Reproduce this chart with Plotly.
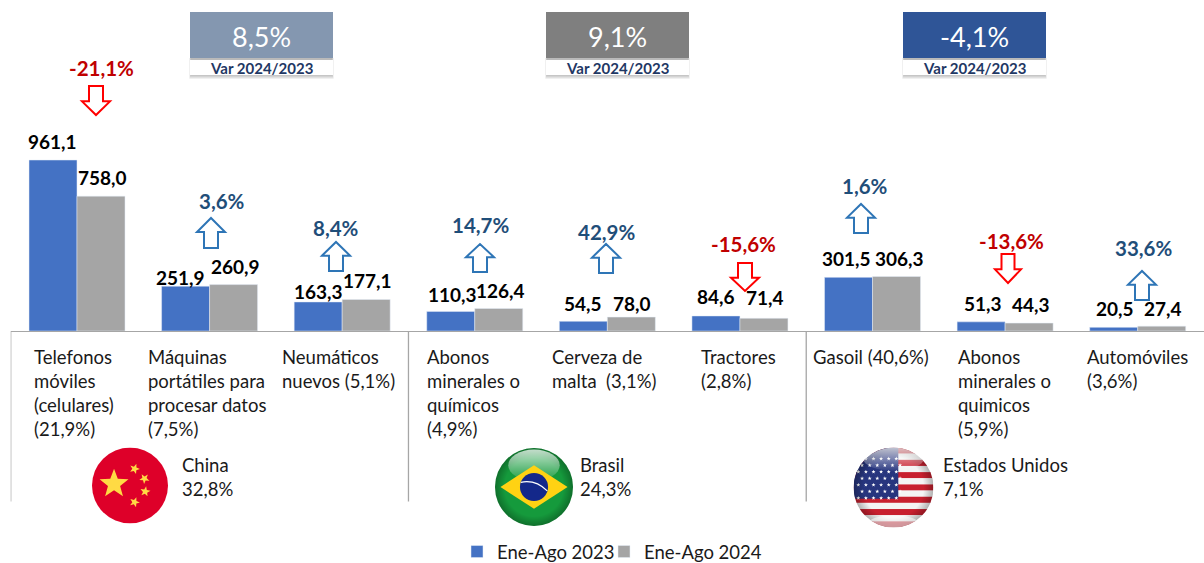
import base64, math
import plotly.graph_objects as go

W, H = 1204, 563
FONT = "Lato"

# ---------- data ----------
categories = ["Telefonos móviles", "Máquinas portátiles", "Neumáticos nuevos",
              "Abonos minerales (Brasil)", "Cerveza de malta", "Tractores",
              "Gasoil", "Abonos minerales (EE.UU.)", "Automóviles"]
wrapped_labels = ["Telefonos<br>móviles<br>(celulares)<br>(21,9%)",
                  "Máquinas<br>portátiles para<br>procesar datos<br>(7,5%)",
                  "Neumáticos<br>nuevos (5,1%)",
                  "Abonos<br>minerales o<br>químicos<br>(4,9%)",
                  "Cerveza de<br>malta  (3,1%)",
                  "Tractores<br>(2,8%)",
                  "Gasoil (40,6%)",
                  "Abonos<br>minerales o<br>quimicos<br>(5,9%)",
                  "Automóviles<br>(3,6%)"]
values_2023 = [961.1, 251.9, 163.3, 110.3, 54.5, 84.6, 301.5, 51.3, 20.5]
values_2024 = [758.0, 260.9, 177.1, 126.4, 78.0, 71.4, 306.3, 44.3, 27.4]
changes = ["-21,1%", "3,6%", "8,4%", "14,7%", "42,9%", "-15,6%", "1,6%", "-13,6%", "33,6%"]
countries = ["China", "Brasil", "Estados Unidos"]
country_shares = ["32,8%", "24,3%", "7,1%"]
group_growth = ["8,5%", "9,1%", "-4,1%"]

# ---------- layout tuning (pixels) ----------
label_left = [32, 146, 280, 425, 550, 699, 811, 956, 1085]
dx_2023 = [0, -5, 0, 1.5, 0, 0, -1.5, 2, 1]
dy_2023 = [19, 9, 10, 17, 18, 19, 19, 18, 19]
dx_2024 = [1, 1.5, 1, 1.5, 1, 1, 2.5, 2, 1]
dy_2024 = [19, 18.5, 18.5, 18.5, 14, 21, 18.5, 19, 18]
pct_xy = [(101, 68), (222, 201), (336, 228), (480, 225), (606, 232),
          (743, 244), (865, 186), (1011, 241), (1143, 248)]
arrow_box = [(82, 110, 86, 115), (197, 225, 218, 248), (322, 350, 242, 271),
             (466, 494, 244, 272), (592, 620, 244, 273), (731, 759, 263, 291),
             (847, 875, 204, 233), (995, 1021, 254, 283), (1128, 1156, 271, 300)]
box_x = [(190, 333), (546, 689), (903, 1046)]
box_col = ["#8497B0", "#7F7F7F", "#2F5597"]
country_x = [180, 578, 941]
flag_geo = [(130, 485.5, 38), (534, 487, 39), (893.5, 487.5, 40)]
sep_idx = [-0.5, 2.5, 5.5]


def px(x):
    return x / W


def py(y):
    return 1 - y / H


def star(cx, cy, r, rot=0):
    pts = []
    for k in range(10):
        a = math.radians(-90 + rot + k * 36)
        rr = r if k % 2 == 0 else r * 0.42
        pts.append(f"{cx + rr * math.cos(a):.2f},{cy + rr * math.sin(a):.2f}")
    return " ".join(pts)


GLOSS = ('<defs><linearGradient id="g" x1="0" y1="0" x2="0" y2="1">'
         '<stop offset="0" stop-color="#fff" stop-opacity=".75"/>'
         '<stop offset="1" stop-color="#fff" stop-opacity=".05"/></linearGradient>'
         '<radialGradient id="v" cx=".5" cy=".5" r=".5"><stop offset=".75" stop-color="#000" stop-opacity="0"/>'
         '<stop offset="1" stop-color="#000" stop-opacity=".28"/></radialGradient>'
         '<clipPath id="c"><circle cx="50" cy="50" r="50"/></clipPath></defs>')

china = ('<circle cx="50" cy="50" r="50" fill="#DE0029"/>'
         + f'<polygon points="{star(29, 48, 20)}" fill="#FFDA44"/>'
         + f'<polygon points="{star(56, 28, 7, 20)}" fill="#FFDA44"/>'
         + f'<polygon points="{star(69, 41, 7, 40)}" fill="#FFDA44"/>'
         + f'<polygon points="{star(70, 58, 7, 10)}" fill="#FFDA44"/>'
         + f'<polygon points="{star(56, 72, 7, 20)}" fill="#FFDA44"/>')

brazil = (GLOSS + '<circle cx="50" cy="50" r="50" fill="#159A3C"/>'
          '<circle cx="50" cy="50" r="50" fill="url(#v)"/>'
          '<ellipse cx="50" cy="22" rx="33" ry="20" fill="url(#g)"/>'
          '<polygon points="7,50 50,22 93,50 50,78" fill="#FFD213"/>'
          '<circle cx="50" cy="50" r="18" fill="#14288A"/>'
          '<path d="M33,44 Q52,40 67,55" stroke="#fff" stroke-width="1.6" fill="none"/>')

stripes = "".join(f'<rect x="0" y="{i * 100 / 13:.2f}" width="100" height="{100 / 13:.2f}" '
                  f'fill="{"#C8202F" if i % 2 == 0 else "#F4F4F4"}"/>' for i in range(13))
us_stars = "".join(f'<polygon points="{star(6 + 9.5 * c + (r % 2) * 4.7, 14 + 8.2 * r, 2.6)}" fill="#fff"/>'
                   for r in range(7) for c in range(6))
usa = (GLOSS + f'<g clip-path="url(#c)">{stripes}<rect x="0" y="0" width="56" height="64" fill="#27357E"/>'
       f'{us_stars}<rect width="100" height="100" fill="url(#v)"/>'
       '<ellipse cx="50" cy="14" rx="38" ry="15" fill="url(#g)"/>'
       '<ellipse cx="50" cy="95" rx="32" ry="10" fill="#fff" opacity=".55"/></g>')


def svg_uri(body):
    svg = f'<svg xmlns="http://www.w3.org/2000/svg" width="200" height="200" viewBox="0 0 100 100">{body}</svg>'
    return "data:image/svg+xml;base64," + base64.b64encode(svg.encode()).decode()


fig = go.Figure()
fig.add_bar(name="Ene-Ago 2023", x=categories, y=values_2023, marker_color="#4472C4", hoverinfo="x+y", legend="legend")
fig.add_bar(name="Ene-Ago 2024", x=categories, y=values_2024, marker_color="#A5A5A5", hoverinfo="x+y", legend="legend2")

annotations = []
shapes = []


def fmt(v):
    return f"{v:.1f}".replace(".", ",")


for i in range(len(categories)):
    annotations.append(dict(xref="paper", yref="paper", x=px(label_left[i]), y=py(344), xanchor="left", yanchor="top",
                            align="left", text=wrapped_labels[i], showarrow=False,
                            font=dict(family=FONT, size=18.5, color="#1a1a1a")))
    for off, vals, dxs, dys in ((-24.1, values_2023, dx_2023, dy_2023), (24.1, values_2024, dx_2024, dy_2024)):
        annotations.append(dict(xref="x", yref="y", x=i, y=vals[i], xanchor="center", yanchor="middle",
                                xshift=off + dxs[i], yshift=dys[i], text=f"<b>{fmt(vals[i])}</b>", showarrow=False,
                                font=dict(family=FONT, size=19, color="#000000")))
    neg = changes[i].startswith("-")
    annotations.append(dict(xref="paper", yref="paper", x=px(pct_xy[i][0]), y=py(pct_xy[i][1]),
                            xanchor="center", yanchor="middle", text=f"<b>{changes[i]}</b>", showarrow=False,
                            font=dict(family=FONT, size=20.5, color="#C00000" if neg else "#1F4E79")))
    x0, x1, y0, y1 = arrow_box[i]
    mx, sw = (x0 + x1) / 2, (x1 - x0) / 4
    hh = (y1 - y0) * 0.47
    if neg:
        pts = [(mx - sw, y0), (mx + sw, y0), (mx + sw, y1 - hh), (x1, y1 - hh), (mx, y1), (x0, y1 - hh), (mx - sw, y1 - hh)]
    else:
        pts = [(mx - sw, y1), (mx + sw, y1), (mx + sw, y0 + hh), (x1, y0 + hh), (mx, y0), (x0, y0 + hh), (mx - sw, y0 + hh)]
    path = "M" + " L".join(f"{px(a):.5f},{py(b):.5f}" for a, b in pts) + " Z"
    shapes.append(dict(type="path", xref="paper", yref="paper", path=path, fillcolor="#FFFFFF",
                       line=dict(color="#FF0000" if neg else "#2E75B6", width=2)))

# group separators
for s in sep_idx:
    shapes.append(dict(type="line", xref="x", yref="paper", x0=s, x1=s, y0=py(331), y1=py(501.5),
                       line=dict(color="#A6A6A6", width=1.3)))

# headline boxes
for j in range(3):
    x0, x1 = box_x[j]
    for k in range(1, 6):
        shapes.append(dict(type="rect", xref="paper", yref="paper", x0=px(x0 - k / 3 + 1), x1=px(x1 + k / 3 - 1),
                           y0=py(58), y1=py(74 + k), fillcolor="rgba(0,0,0,0.06)", line_width=0))
    shapes.append(dict(type="rect", xref="paper", yref="paper", x0=px(x0), x1=px(x1), y0=py(12), y1=py(58),
                       fillcolor=box_col[j], line_width=0))
    shapes.append(dict(type="rect", xref="paper", yref="paper", x0=px(x0), x1=px(x1), y0=py(60), y1=py(75),
                       fillcolor="#FFFFFF", line_width=0))
    annotations.append(dict(xref="paper", yref="paper", x=px((x0 + x1) / 2), y=py(36), xanchor="center",
                            yanchor="middle", text=group_growth[j], showarrow=False,
                            font=dict(family=FONT, size=27, color="#FFFFFF")))
    annotations.append(dict(xref="paper", yref="paper", x=px((x0 + x1) / 2), y=py(68), xanchor="center",
                            yanchor="middle", text="<b>Var 2024/2023</b>", showarrow=False,
                            font=dict(family=FONT, size=15, color="#1F3864")))
    annotations.append(dict(xref="paper", yref="paper", x=px(country_x[j]), y=py(476.5), xanchor="left",
                            yanchor="middle", align="left", text=f"{countries[j]}<br>{country_shares[j]}",
                            showarrow=False, font=dict(family=FONT, size=18.5, color="#1a1a1a")))

images = []
for (cx, cy, r), body in zip(flag_geo, (china, brazil, usa)):
    images.append(dict(source=svg_uri(body), xref="paper", yref="paper", x=px(cx - r), y=py(cy - r),
                       sizex=2 * r / W, sizey=2 * r / H, sizing="stretch", xanchor="left", yanchor="top", layer="above"))


def legend_at(left):
    return dict(orientation="h", x=px(left), xanchor="left", y=py(552), yanchor="middle",
                font=dict(family=FONT, size=18.5, color="#1a1a1a"), bgcolor="rgba(0,0,0,0)",
                itemclick=False, itemdoubleclick=False)


fig.update_layout(
    width=W, height=H, margin=dict(l=0, r=0, t=0, b=0, autoexpand=False), paper_bgcolor="#FFFFFF", plot_bgcolor="#FFFFFF",
    barmode="group", bargap=0.276, bargroupgap=0, separators=", ",
    font=dict(family=FONT, size=18, color="#1a1a1a"),
    xaxis=dict(type="category", domain=[10.7 / W, 1], range=[-0.5, 8.5], showticklabels=False, ticks="",
               showgrid=False, zeroline=False, showline=True, linecolor="#A6A6A6", linewidth=1.3),
    yaxis=dict(domain=[1 - 331 / H, 1], range=[0, 331 / 0.1779], visible=False, showgrid=False, zeroline=False),
    legend=legend_at(457), legend2=legend_at(604),
    annotations=annotations, shapes=shapes, images=images, showlegend=True,
)

fig.write_html("out.html", config={"displayModeBar": False},
               post_script="document.body.style.margin='0';document.body.style.overflow='hidden';")
